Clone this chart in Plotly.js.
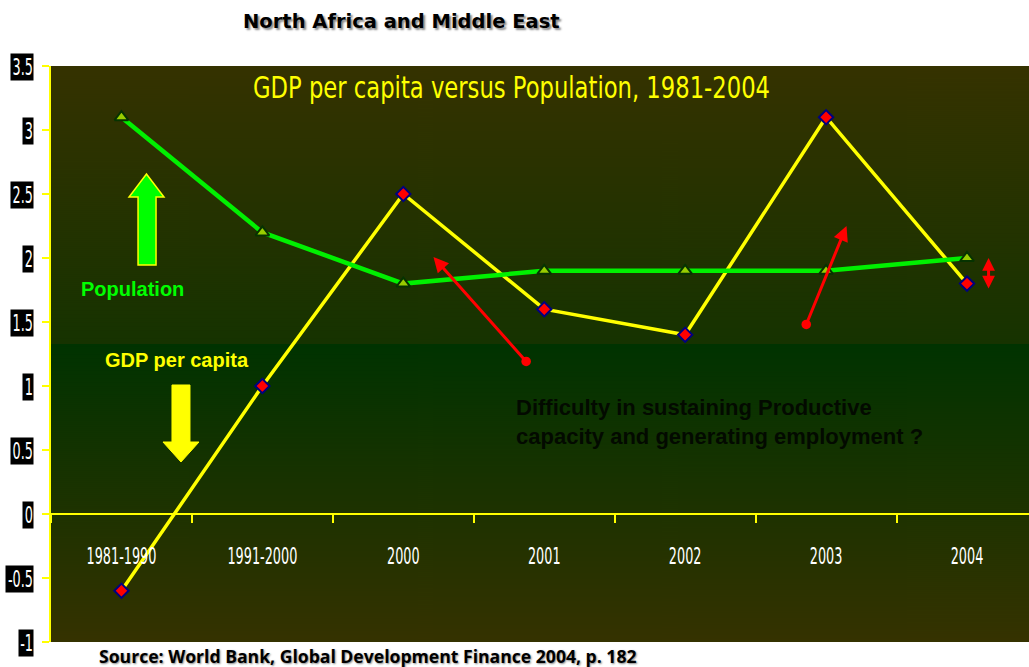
<!DOCTYPE html>
<html>
<head>
<meta charset="utf-8">
<script src="https://cdn.plot.ly/plotly-3.0.1.min.js"></script>
<style>html,body{margin:0;padding:0;background:#fff;}#chart{width:1029px;height:667px;}</style>
</head>
<body>
<div id="chart"></div>
<script>
// ---- data ----
const categories = ['1981-1990', '1991-2000', '2000', '2001', '2002', '2003', '2004'];
const gdpPerCapita = [-0.6, 1.0, 2.5, 1.6, 1.4, 3.1, 1.8];
const population = [3.1, 2.2, 1.8, 1.9, 1.9, 1.9, 2.0];
const yTickVals = [-1, -0.5, 0, 0.5, 1, 1.5, 2, 2.5, 3, 3.5];
const yTickText = ['-1', '-0.5', '0', '0.5', '1', '1.5', '2', '2.5', '3', '3.5'];
const yRange = [-1, 3.5];

// ---- layout geometry ----
const W = 1029, H = 667;
const M = {l: 51, r: 0, t: 66, b: 25};
const plotW = W - M.l - M.r, plotH = H - M.t - M.b;
const NARROW = '"Liberation Sans Narrow", "Arial Narrow", "DejaVu Sans Condensed", sans-serif';
const BOLD = '"Liberation Sans", Arial, sans-serif';
const SQUASH = 0.62;          // horizontal squeeze of the tall narrow label font
const TITLE_WIDTH = 517;      // target drawn width of the inner title

// background gradient image
function gradientImage() {
  const c = document.createElement('canvas');
  c.width = 4; c.height = plotH;
  const g = c.getContext('2d');
  const split = Math.round(plotH * 0.483);
  let gr = g.createLinearGradient(0, 0, 0, split);
  gr.addColorStop(0, '#353200');
  gr.addColorStop(1, '#163300');
  g.fillStyle = gr; g.fillRect(0, 0, 4, split);
  gr = g.createLinearGradient(0, split, 0, plotH);
  gr.addColorStop(0, '#003300');
  gr.addColorStop(1, '#353200');
  g.fillStyle = gr; g.fillRect(0, split, 4, plotH - split);
  return c.toDataURL('image/png');
}

// pixel -> paper helper for decorative block arrows
function P(px, py) { return ((px - M.l) / plotW).toFixed(4) + ',' + ((H - M.b - py) / plotH).toFixed(4); }
function pathOf(pts) { return 'M' + pts.map(p => P(p[0], p[1])).join('L') + 'Z'; }

const upArrow = pathOf([[146.5,174],[164,197],[156,197],[156,265],[138,265],[138,197],[129,197]]);
const downArrow = pathOf([[172,385],[190,385],[190,442],[199,442],[181,462],[163,442],[172,442]]);

const traces = [
  {
    x: categories, y: gdpPerCapita, type: 'scatter', mode: 'lines+markers', name: 'GDP per capita',
    line: {color: '#ffff00', width: 3.5},
    marker: {symbol: 'diamond', size: 11, color: '#ff0000', line: {color: '#000080', width: 2}},
    hoverinfo: 'skip'
  },
  {
    x: categories, y: population, type: 'scatter', mode: 'lines+markers', name: 'Population',
    line: {color: '#00f000', width: 4.5},
    marker: {symbol: 'triangle-up', size: 12, color: '#99cc00', line: {color: '#063300', width: 2}},
    hoverinfo: 'skip'
  }
];

const annotations = [];
yTickVals.forEach((v, i) => {
  annotations.push({
    xref: 'paper', yref: 'y', x: 0, y: v, xanchor: 'right', yanchor: 'middle', xshift: -17, yshift: -1,
    text: yTickText[i], showarrow: false, bgcolor: '#000000', borderpad: 0, align: 'right',
    font: {family: NARROW, size: 23, color: '#ffffff'}
  });
});

annotations.push(
  {xref: 'paper', yref: 'paper', x: (401 - M.l) / plotW, y: (H - M.b - 21) / plotH, xanchor: 'center', yanchor: 'middle',
   text: '<b>North Africa and Middle East</b>', showarrow: false,
   font: {family: '"DejaVu Sans", sans-serif', size: 19.5, color: '#000000', shadow: '2px 2px 2px #8a8a8a'}},
  {xref: 'paper', yref: 'paper', x: (97 - M.l) / plotW, y: (H - M.b - 656) / plotH, xanchor: 'left', yanchor: 'middle',
   text: '<b>Source: World Bank, Global Development Finance 2004, p. 182</b>', showarrow: false,
   font: {family: '"Open Sans", sans-serif', size: 17.6, color: '#000000', shadow: '1px 1px 2px #888888'}},
  {xref: 'x', yref: 'y', x: 0.078, y: 1.758, xanchor: 'center', yanchor: 'middle',
   text: '<b>Population</b>', showarrow: false, font: {family: BOLD, size: 20, color: '#00ff00'}},
  {xref: 'x', yref: 'y', x: 0.397, y: 1.203, xanchor: 'center', yanchor: 'middle',
   text: '<b>GDP per capita</b>', showarrow: false, font: {family: BOLD, size: 20, color: '#ffff00'}},
  {xref: 'x', yref: 'y', x: 2.782, y: 0.719, xanchor: 'left', yanchor: 'middle', align: 'left',
   text: '<b>Difficulty in sustaining Productive<br>capacity and generating employment ?</b>', showarrow: false,
   font: {family: BOLD, size: 22, color: '#030a00'}},
  // red arrows
  {xref: 'x', yref: 'y', axref: 'x', ayref: 'y', x: 2.214, y: 2.008, ax: 2.881, ay: 1.180, text: '',
   showarrow: true, arrowhead: 2, arrowsize: 1, arrowwidth: 3, arrowcolor: '#ff0000',
   arrowside: 'end+start', startarrowhead: 6, startarrowsize: 0.8},
  {xref: 'x', yref: 'y', axref: 'x', ayref: 'y', x: 5.145, y: 2.25, ax: 4.855, ay: 1.469, text: '',
   showarrow: true, arrowhead: 2, arrowsize: 1, arrowwidth: 3, arrowcolor: '#ff0000',
   arrowside: 'end+start', startarrowhead: 6, startarrowsize: 0.8},
  {xref: 'x', yref: 'y', axref: 'x', ayref: 'y', x: 6.153, y: 2.0, ax: 6.153, ay: 1.75, text: '',
   showarrow: true, arrowhead: 2, arrowsize: 0.85, arrowwidth: 3, arrowcolor: '#ff0000',
   arrowside: 'end+start', startarrowhead: 2, startarrowsize: 0.85}
);

const layout = {
  width: W, height: H,
  margin: M,
  paper_bgcolor: '#ffffff',
  plot_bgcolor: '#333300',
  showlegend: false,
  title: {
    text: 'GDP per capita versus Population, 1981-2004',
    font: {family: NARROW, size: 31, color: '#ffff00'},
    xref: 'container', yref: 'container', x: 511.5 / W, xanchor: 'center', y: 1 - 87 / H, yanchor: 'middle'
  },
  xaxis: {
    type: 'category', range: [-0.5, 6.44], fixedrange: true,
    anchor: 'free', position: (0 - yRange[0]) / (yRange[1] - yRange[0]),
    showline: true, linecolor: '#ffff00', linewidth: 2,
    ticks: 'outside', tickson: 'boundaries', ticklen: 8, tickwidth: 2, tickcolor: '#ffff00',
    ticklabelstandoff: 21,
    tickfont: {family: NARROW, size: 23, color: '#ffffff'},
    showgrid: false, zeroline: false
  },
  yaxis: {
    range: yRange, fixedrange: true,
    tickvals: yTickVals, ticktext: yTickText, showticklabels: false,
    ticks: 'outside', ticklen: 7, tickwidth: 2, tickcolor: '#ffff00',
    showline: true, linecolor: '#ffff00', linewidth: 2,
    showgrid: false, zeroline: false
  },
  images: [{
    source: gradientImage(), xref: 'paper', yref: 'paper', x: 0, y: 1, sizex: 1, sizey: 1,
    xanchor: 'left', yanchor: 'top', sizing: 'stretch', layer: 'below'
  }],
  shapes: [
    {type: 'path', xref: 'paper', yref: 'paper', path: upArrow, fillcolor: '#00ff00', line: {color: '#ffff00', width: 1.5}},
    {type: 'path', xref: 'paper', yref: 'paper', path: downArrow, fillcolor: '#ffff00', line: {color: '#ffff00', width: 1}}
  ],
  annotations: annotations
};

function squash(el, f) {
  if (!el) return;
  const w = el.getComputedTextLength();
  if (!w) return;
  el.setAttribute('textLength', (w * f).toFixed(1));
  el.setAttribute('lengthAdjust', 'spacingAndGlyphs');
}

const gd = document.getElementById('chart');
Plotly.newPlot(gd, traces, layout, {displayModeBar: false, staticPlot: true}).then(() => {
  // size the black label boxes to the squeezed text
  const upd = {};
  yTickVals.forEach((v, i) => {
    const el = gd.querySelector('.annotation[data-index="' + i + '"] .annotation-text');
    if (el) upd['annotations[' + i + '].width'] = Math.ceil(el.getComputedTextLength() * SQUASH) + 1;
  });
  return Plotly.relayout(gd, upd);
}).then(() => {
  yTickVals.forEach((v, i) => squash(gd.querySelector('.annotation[data-index="' + i + '"] .annotation-text'), SQUASH));
  gd.querySelectorAll('.xtick text').forEach(el => squash(el, SQUASH));
  const t = gd.querySelector('.gtitle');
  if (t) squash(t, TITLE_WIDTH / t.getComputedTextLength());
});
</script>
</body>
</html>
